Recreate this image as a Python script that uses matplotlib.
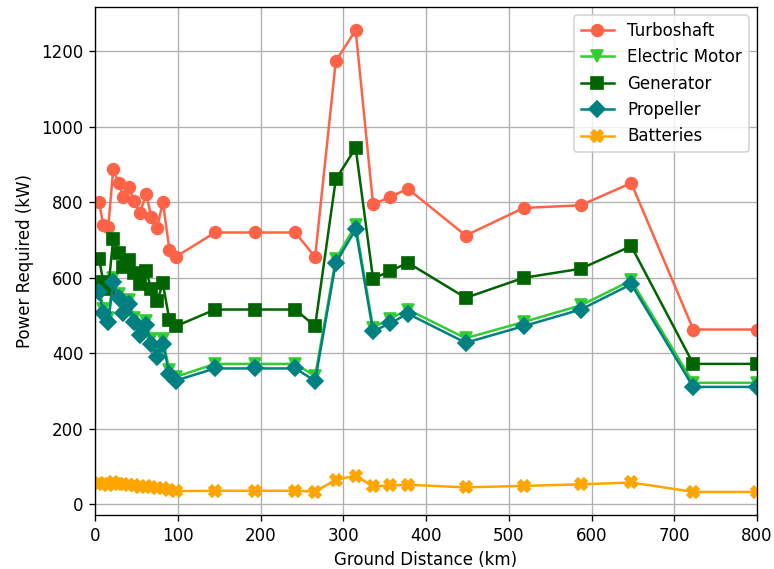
import matplotlib
matplotlib.use("Agg")
import matplotlib.pyplot as plt

distance_km = [5, 10, 16, 22, 29, 34, 41, 47, 54, 62, 68, 75, 82, 90, 98,
               145, 193, 242, 266, 291, 315, 336, 357, 378, 448, 518, 587, 648, 723, 800]

turboshaft = [801, 739, 734, 887, 850, 814, 840, 803, 772, 821, 761, 732, 801, 673, 656,
              720, 720, 720, 655, 1174, 1256, 795, 814, 836, 712, 785, 792, 851, 463, 463]

electric_motor = [575, 518, 494, 600, 558, 520, 542, 494, 460, 486, 437, 400, 437, 355, 338,
                  372, 372, 372, 340, 650, 740, 468, 492, 516, 440, 483, 527, 593, 322, 322]

generator = [650, 590, 570, 703, 666, 628, 648, 612, 583, 617, 570, 538, 585, 487, 472,
             516, 516, 516, 472, 861, 944, 598, 618, 640, 547, 600, 624, 684, 372, 372]

propeller = [562, 506, 482, 588, 547, 508, 530, 482, 448, 474, 426, 389, 426, 344, 328,
             360, 360, 360, 327, 640, 728, 458, 480, 505, 428, 472, 516, 583, 311, 311]

batteries = [57, 53, 52, 58, 55, 53, 52, 50, 47, 48, 45, 43, 44, 38, 35,
             36, 36, 36, 34, 65, 76, 48, 50, 52, 45, 49, 53, 58, 33, 33]

series = [
    ("Turboshaft", turboshaft, "tomato", "o"),
    ("Electric Motor", electric_motor, "limegreen", "v"),
    ("Generator", generator, "darkgreen", "s"),
    ("Propeller", propeller, "teal", "D"),
    ("Batteries", batteries, "orange", "X"),
]

fig = plt.figure(figsize=(7.74 / 1.2, 5.69 / 1.2), dpi=120)
ax = fig.add_axes([95 / 774, (569 - 515) / 569, (757 - 95) / 774, (515 - 7) / 569])

for label, vals, color, marker in series:
    ax.plot(distance_km, vals, color=color, marker=marker, markersize=7, linewidth=1.5, label=label)

ax.set_xlim(0, 800)
ax.set_xlabel("Ground Distance (km)")
ax.set_ylabel("Power Required (kW)")
ax.grid(True)
ax.legend(loc="upper right")

fig.savefig("out.png", dpi=120)
